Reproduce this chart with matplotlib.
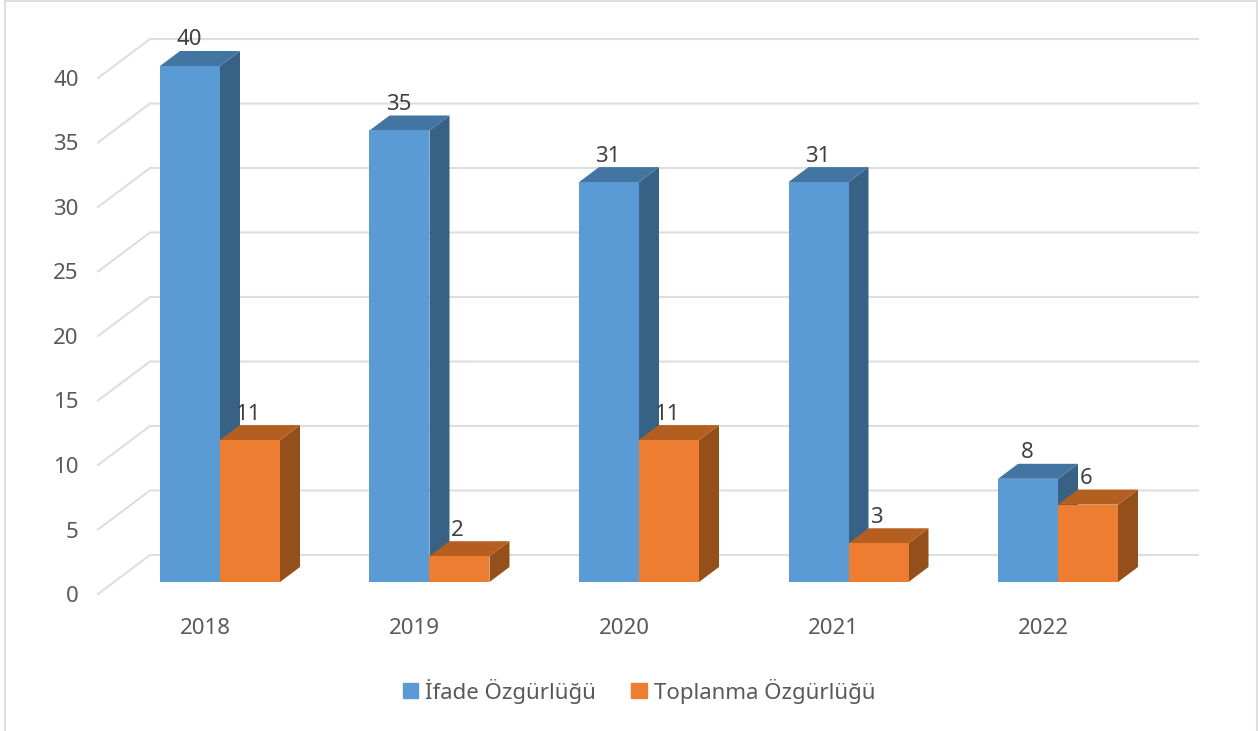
import matplotlib
matplotlib.use("Agg")
import matplotlib.pyplot as plt
from matplotlib.patches import Patch, Rectangle

plt.rcParams['font.family'] = ['Noto Sans', 'DejaVu Sans']

years = ["2018", "2019", "2020", "2021", "2022"]
ifade = [40, 35, 31, 31, 8]
toplanma = [11, 2, 11, 3, 6]
y_ticks = [0, 5, 10, 15, 20, 25, 30, 35, 40]

W, H = 1258, 731
GROUP_PX = 209.5   # px per category
UNIT_PX = 12.9     # px per value unit
TEXT = "#595959"
GRID = "#DEDEDE"

# fake 3d sizes, px converted to data units
bar_w = 60 / GROUP_PX
bar_x0 = -45 / GROUP_PX
lift = 12 / UNIT_PX
depth_x = 20 / GROUP_PX
depth_y = 15 / UNIT_PX
wall_x = 52 / GROUP_PX
wall_y = 39 / UNIT_PX

fig = plt.figure(figsize=(W / 100, H / 100), dpi=100)
fig.add_artist(Rectangle((5 / W, -0.01), 1252 / W, 1.0 - 1.5 / H + 0.01, fill=False,
                         edgecolor=GRID, linewidth=1.5, transform=fig.transFigure))

ax = fig.add_axes([98 / W, (H - 594) / H, 1100 / W, 516 / H])
ax.set_xlim((98 - 205) / GROUP_PX, (1198 - 205) / GROUP_PX)
ax.set_ylim(0, 40)
for s in ax.spines.values():
    s.set_visible(False)

# back wall grid with the diagonal at the left
for t in y_ticks:
    xs = [ax.get_xlim()[0], ax.get_xlim()[0] + wall_x, ax.get_xlim()[1]]
    ys = [t, t + wall_y, t + wall_y]
    ax.plot(xs, ys, color=GRID, linewidth=1.5, clip_on=False, zorder=1)


def draw_bar(x, v, front, top, side, z):
    x1 = x + bar_w
    y1 = lift + v
    ax.bar(x, v, bar_w, bottom=lift, align="edge", color=front, clip_on=False, zorder=z + 0.2)
    ax.fill([x, x1, x1 + depth_x, x + depth_x], [y1, y1, y1 + depth_y, y1 + depth_y],
            color=top, linewidth=0, clip_on=False, zorder=z + 0.1)
    ax.fill([x1, x1 + depth_x, x1 + depth_x, x1], [lift, lift + depth_y, y1 + depth_y, y1],
            color=side, linewidth=0, clip_on=False, zorder=z)


for i in range(len(years)):
    x0 = i + bar_x0
    x1 = x0 + bar_w
    draw_bar(x0, ifade[i], "#5B9BD5", "#4375A3", "#386285", 2 + i)
    draw_bar(x1, toplanma[i], "#ED7D31", "#B45F20", "#944F1B", 2.5 + i)

    # value labels sit above the back edge of each bar
    ax.annotate(str(ifade[i]), (x0, lift + ifade[i]), xytext=(29 * 0.72, 26 * 0.72),
                textcoords="offset points", ha="center", va="center", color="#404040",
                fontsize=16, annotation_clip=False, zorder=20)
    ax.annotate(str(toplanma[i]), (x1, lift + toplanma[i]), xytext=(28 * 0.72, 26 * 0.72),
                textcoords="offset points", ha="center", va="center", color="#404040",
                fontsize=16, annotation_clip=False, zorder=20)

ax.set_xticks(range(len(years)))
ax.set_xticklabels(years)
ax.set_yticks(y_ticks)
ax.tick_params(axis="both", length=0, labelsize=16, labelcolor=TEXT)
ax.tick_params(axis="x", pad=17)
ax.tick_params(axis="y", pad=14)

handles = [Patch(color="#5B9BD5", label="İfade Özgürlüğü"),
           Patch(color="#ED7D31", label="Toplanma Özgürlüğü")]
fig.legend(handles=handles, loc="center", bbox_to_anchor=(639 / W, (H - 691) / H),
           ncol=2, frameon=False, fontsize=16, labelcolor=TEXT, handlelength=0.68,
           handleheight=0.68, handletextpad=0.32, columnspacing=1.6)

fig.savefig("out.png", dpi=100)
